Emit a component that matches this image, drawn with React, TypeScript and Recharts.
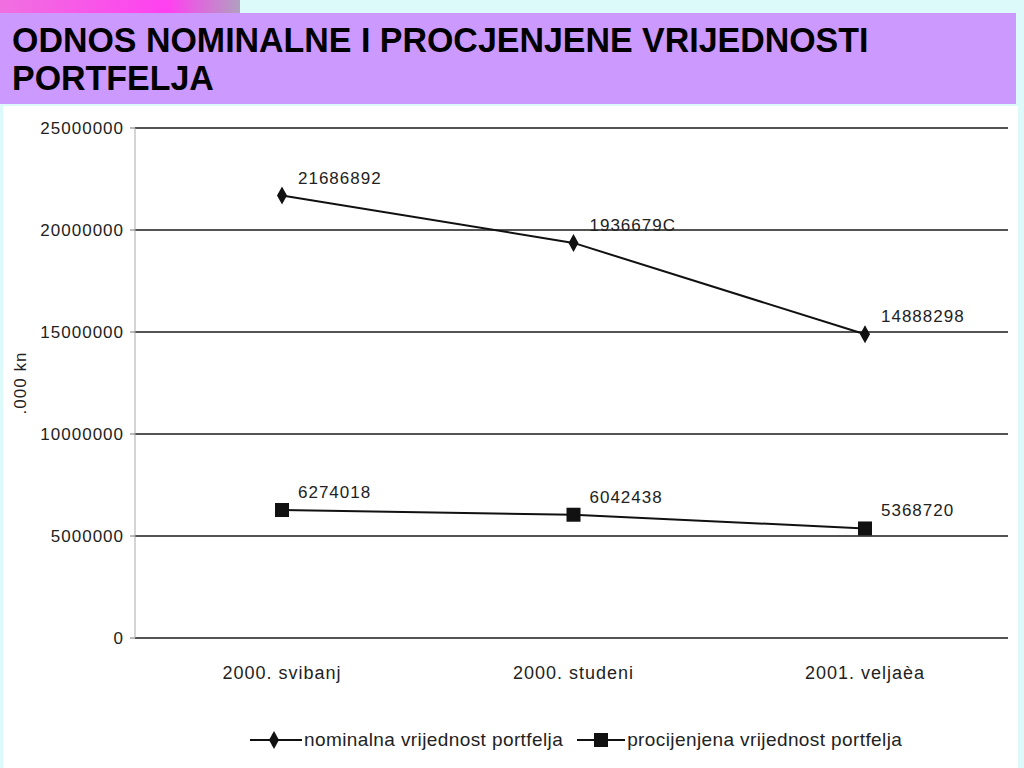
import { LineChart, Line, XAxis, YAxis, CartesianGrid, LabelList } from "recharts";

const categories = ["2000. svibanj", "2000. studeni", "2001. veljaèa"];
const nominalna = [21686892, 19366790, 14888298];
const procijenjena = [6274018, 6042438, 5368720];
const yTicks = [0, 5000000, 10000000, 15000000, 20000000, 25000000];
const labelNominal = ["21686892", "1936679C", "14888298"];
const labelProc = ["6274018", "6042438", "5368720"];

const data = categories.map((c, i) => ({
  name: c,
  nominalna: nominalna[i],
  procijenjena: procijenjena[i],
  ln: labelNominal[i],
  lp: labelProc[i],
}));

const FONT = "'Liberation Sans', Arial, sans-serif";

const Diamond = (props: any) => {
  const { cx, cy } = props;
  if (cx == null || cy == null) return null;
  return <path d={`M${cx},${cy - 9} L${cx + 5},${cy} L${cx},${cy + 9} L${cx - 5},${cy} Z`} fill="#111" />;
};

const Square = (props: any) => {
  const { cx, cy } = props;
  if (cx == null || cy == null) return null;
  return <rect x={cx - 7} y={cy - 7} width={14} height={14} fill="#111" />;
};

const ValueLabel = (props: any) => {
  const { x, y, value } = props;
  return (
    <text x={x + 16} y={y - 12} fontSize={17} fontFamily={FONT} letterSpacing={1} fill="#222">
      {value}
    </text>
  );
};

export default function App() {
  return (
    <div style={{ position: "absolute", left: 0, top: 0, width: 1024, height: 768, background: "#ddfafa", overflow: "hidden" }}>
      <div style={{ position: "absolute", left: 0, top: 0, width: 240, height: 14, background: "linear-gradient(90deg, #f070e0, #ff40f0 70%, #b0a0c0)" }} />
      <div style={{ position: "absolute", left: 0, top: 13, width: 1016, height: 91, background: "#cc99ff" }} />
      <div
        style={{
          position: "absolute",
          left: 12,
          top: 21,
          fontFamily: FONT,
          fontWeight: "bold",
          fontSize: 35,
          lineHeight: "38px",
          color: "#000",
          transform: "scaleX(0.97)",
          transformOrigin: "left top",
          whiteSpace: "nowrap",
        }}
      >
        ODNOS NOMINALNE I PROCJENJENE VRIJEDNOSTI
        <br />
        PORTFELJA
      </div>
      <div style={{ position: "absolute", left: 3, top: 106, width: 1015, height: 662, background: "#fff" }} />
      <div style={{ position: "absolute", left: 0, top: 0 }}>
        <LineChart width={1024} height={768} data={data} margin={{ top: 128, right: 16, bottom: 90, left: 35 }}>
          <CartesianGrid vertical={false} stroke="#1a1a1a" strokeWidth={1.5} />
          <XAxis
            dataKey="name"
            height={40}
            padding={{ left: 147, right: 143 }}
            axisLine={false}
            tickLine={false}
            tick={{ fontSize: 18, fontFamily: FONT, fill: "#222", letterSpacing: 1 }}
            dy={20}
          />
          <YAxis
            width={100}
            domain={[0, 25000000]}
            ticks={yTicks}
            interval={0}
            axisLine={{ stroke: "#aaa" }}
            tickLine={{ stroke: "#777" }}
            tickSize={5}
            tick={{ fontSize: 17, fontFamily: FONT, fill: "#222", letterSpacing: 1 }}
            dx={-4}
            label={{ value: ".000 kn", angle: -90, position: "insideLeft", dx: -20, dy: 0, style: { fontSize: 17, fontFamily: FONT, fill: "#222", letterSpacing: 1, textAnchor: "middle" } }}
          />
          <Line
            dataKey="nominalna"
            stroke="#111"
            strokeWidth={2}
            dot={<Diamond />}
            activeDot={false}
            isAnimationActive={false}
          >
            <LabelList dataKey="ln" content={<ValueLabel />} />
          </Line>
          <Line
            dataKey="procijenjena"
            stroke="#111"
            strokeWidth={2}
            dot={<Square />}
            activeDot={false}
            isAnimationActive={false}
          >
            <LabelList dataKey="lp" content={<ValueLabel />} />
          </Line>
        </LineChart>
      </div>
      <div
        style={{
          position: "absolute",
          left: 248,
          top: 728,
          display: "flex",
          alignItems: "center",
          fontFamily: FONT,
          fontSize: 19,
          letterSpacing: 0.4,
          color: "#222",
          whiteSpace: "nowrap",
        }}
      >
        <svg width={56} height={24}>
          <line x1={2} y1={12} x2={54} y2={12} stroke="#111" strokeWidth={2} />
          <path d="M26,3 L31,12 L26,21 L21,12 Z" fill="#111" />
        </svg>
        <span style={{ marginRight: 12 }}>nominalna vrijednost portfelja</span>
        <svg width={52} height={24}>
          <line x1={2} y1={12} x2={50} y2={12} stroke="#111" strokeWidth={2} />
          <rect x={19} y={5} width={14} height={14} fill="#111" />
        </svg>
        <span>procijenjena vrijednost portfelja</span>
      </div>
    </div>
  );
}
